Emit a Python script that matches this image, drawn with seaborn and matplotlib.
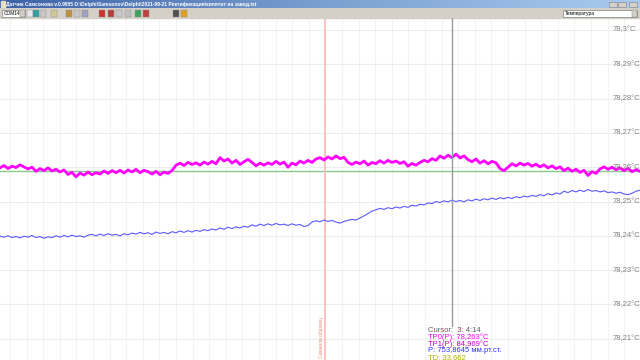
import numpy as np
import pandas as pd
import matplotlib
matplotlib.use("Agg")
import matplotlib.pyplot as plt
from matplotlib.patches import Rectangle
import seaborn as sns

# ---------------- data ----------------
tp0 = [78.2598, 78.2605, 78.2596, 78.2603, 78.2599, 78.2607, 78.2601, 78.2595, 78.2600, 78.2588,
       78.2596, 78.2590, 78.2598, 78.2589, 78.2594, 78.2586, 78.2592, 78.2579, 78.2585, 78.2572,
       78.2583, 78.2577, 78.2586, 78.2578, 78.2584, 78.2580, 78.2589, 78.2582, 78.2590, 78.2584,
       78.2591, 78.2583, 78.2592, 78.2586, 78.2594, 78.2584, 78.2591, 78.2587, 78.2580, 78.2588,
       78.2578, 78.2586, 78.2582, 78.2590, 78.2606, 78.2612, 78.2605, 78.2614, 78.2608, 78.2613,
       78.2606, 78.2615, 78.2609, 78.2617, 78.2610, 78.2628, 78.2618, 78.2624, 78.2612, 78.2620,
       78.2608, 78.2616, 78.2623, 78.2614, 78.2604, 78.2612, 78.2606, 78.2613, 78.2608, 78.2617,
       78.2609, 78.2615, 78.2600, 78.2612, 78.2607, 78.2618, 78.2612, 78.2620, 78.2614, 78.2624,
       78.2628, 78.2621, 78.2630, 78.2624, 78.2633, 78.2625, 78.2629, 78.2614, 78.2608, 78.2615,
       78.2610, 78.2618, 78.2606, 78.2614, 78.2610, 78.2619, 78.2612, 78.2620, 78.2614, 78.2618,
       78.2611, 78.2616, 78.2603, 78.2611, 78.2606, 78.2614, 78.2620, 78.2616, 78.2625, 78.2620,
       78.2633, 78.2626, 78.2635, 78.2628, 78.2638, 78.2627, 78.2633, 78.2622, 78.2616, 78.2624,
       78.2612, 78.2619, 78.2610, 78.2617, 78.2613, 78.2596, 78.2590, 78.2600, 78.2610, 78.2604,
       78.2612, 78.2606, 78.2611, 78.2603, 78.2609, 78.2601, 78.2607, 78.2598, 78.2604, 78.2596,
       78.2601, 78.2590, 78.2597, 78.2588, 78.2594, 78.2585, 78.2591, 78.2576, 78.2587, 78.2582,
       78.2595, 78.2601, 78.2594, 78.2600, 78.2593, 78.2598, 78.2590, 78.2597, 78.2587, 78.2593,
       78.2588]

pres = [78.2399, 78.2396, 78.2400, 78.2395, 78.2398, 78.2394, 78.2399, 78.2396, 78.2401, 78.2395,
        78.2398, 78.2393, 78.2397, 78.2395, 78.2400, 78.2396,
        78.2401, 78.2397, 78.2402, 78.2398, 78.2400, 78.2396, 78.2402,
        78.2404, 78.2400, 78.2405, 78.2401, 78.2406, 78.2402, 78.2404, 78.2400, 78.2406, 78.2403,
        78.2408, 78.2405, 78.2410, 78.2406, 78.2409, 78.2404, 78.2411, 78.2407, 78.2410, 78.2406,
        78.2412, 78.2409, 78.2414, 78.2410, 78.2415, 78.2411, 78.2416, 78.2413,
        78.2418, 78.2415, 78.2420, 78.2417, 78.2423, 78.2419, 78.2425, 78.2421, 78.2426, 78.2423, 78.2428, 78.2425,
        78.2432, 78.2428, 78.2434, 78.2430, 78.2435, 78.2431, 78.2436, 78.2432, 78.2434, 78.2430, 78.2435, 78.2431, 78.2433,
        78.2427, 78.2430,
        78.2440, 78.2444, 78.2441, 78.2446, 78.2442, 78.2445, 78.2440, 78.2437, 78.2442, 78.2445, 78.2448, 78.2446,
        78.2452, 78.2458, 78.2465,
        78.2472, 78.2476, 78.2480, 78.2477, 78.2482, 78.2479, 78.2484, 78.2481,
        78.2486, 78.2483, 78.2489, 78.2487, 78.2492, 78.2490, 78.2496, 78.2494,
        78.2500, 78.2497, 78.2502, 78.2499, 78.2504, 78.2500, 78.2503, 78.2499, 78.2505, 78.2502,
        78.2507, 78.2503, 78.2508, 78.2505, 78.2510, 78.2506, 78.2511, 78.2508, 78.2512, 78.2509, 78.2514, 78.2511,
        78.2516, 78.2513, 78.2518, 78.2515, 78.2520, 78.2517, 78.2523, 78.2519, 78.2525, 78.2522,
        78.2530, 78.2526, 78.2532, 78.2528, 78.2533, 78.2529, 78.2535, 78.2530, 78.2532, 78.2528,
        78.2531, 78.2526, 78.2528, 78.2524, 78.2527, 78.2522, 78.2520,
        78.2524, 78.2530, 78.2533]

ref_level = 78.2588
ytick_vals = [78.30, 78.29, 78.28, 78.27, 78.26, 78.25, 78.24, 78.23, 78.22, 78.21]
ytick_labels = ["78,3°C", "78,29°C", "78,28°C", "78,27°C", "78,26°C",
                "78,25°C", "78,24°C", "78,23°C", "78,22°C", "78,21°C"]
marker_pos = 81.25
cursor_pos = 113.0
marker_label = "Сменили образец"
cursor_lines = ["Cursor:  3: 4:14", "TP0(P): 78,263°C", "TP1(P): 84,969°C",
                "P: 753,8645 мм.рт.ст.", "TD: 33,662"]
cursor_colors = ["#606060", "#ff00ff", "#c000c0", "#3030ff", "#b0b000"]
window_title = "Датчик Самсонова v.0.9955 D:\\Delphi\\Samsonov\\Delphi\\2021-09-21 Ректификация\\кипятит на завод.txt"

df0 = pd.DataFrame({"t": np.arange(len(tp0)), "v": tp0})
df1 = pd.DataFrame({"t": np.arange(len(pres)), "v": pres})

# ---------------- figure ----------------
sns.set_theme(style="white")
plt.rcParams["font.family"] = ["Liberation Sans", "DejaVu Sans"]

W, H = 640, 360
fig = plt.figure(figsize=(6.4, 3.6), dpi=100)
fig.patch.set_facecolor("white")

top_px = 18
ax = fig.add_axes([0, 0, 1, (H - top_px) / H])
ax.set_facecolor("white")
ax.set_xlim(0, 160)
ax.set_ylim(78.2038, 78.3035)
for s in ax.spines.values():
    s.set_visible(False)

# grid
for gx in np.arange(2.5, 160, 4.15):
    ax.axvline(gx, color="#f3f3f3", lw=0.8, zorder=0)
for gy in ytick_vals:
    ax.axhline(gy, color="#ececec", lw=0.8, zorder=0)

ax.axhline(ref_level, color="#8cc88c", lw=1.0, zorder=1)
ax.axvline(marker_pos, color="#ffb8b8", lw=1.2, zorder=1)

sns.lineplot(data=df1, x="t", y="v", color="#5a5aff", lw=0.8, ax=ax, zorder=3)
sns.lineplot(data=df0, x="t", y="v", color="#ff00ff", lw=2.0, ax=ax, zorder=4)

ax.set_xticks([])
ax.set_yticks([])
ax.set_xlabel("")
ax.set_ylabel("")

for v, lab in zip(ytick_vals, ytick_labels):
    ax.text(613 / 640 * 160, v, lab, fontsize=5.5, color="#808080",
            va="center", ha="left", zorder=5)

# overlay in pixel coordinates
ov = fig.add_axes([0, 0, 1, 1], zorder=10)
ov.set_xlim(0, W)
ov.set_ylim(H, 0)
ov.axis("off")
ov.patch.set_visible(False)

# cursor line
ov.plot([452, 452], [top_px, 326], color="#9a9a9a", lw=1.0)
# marker label
ov.text(322, 337, marker_label, rotation=90, fontsize=3.5, color="#ff8080",
        ha="center", va="center")
# cursor readout
for i, (t, c) in enumerate(zip(cursor_lines, cursor_colors)):
    ov.text(428, 331 + i * 6.6, t, fontsize=5.5, color=c, ha="left", va="center")

# title bar gradient
grad = np.linspace(0, 1, 256)[None, :]
tb = fig.add_axes([0, (H - 8) / H, 1, 8 / H], zorder=11)
tb.imshow(grad, aspect="auto", cmap=matplotlib.colors.LinearSegmentedColormap.from_list(
    "tb", ["#3d62a8", "#7a9fd0", "#a9cbf0"]), extent=(0, W, 8, 0))
tb.set_xlim(0, W)
tb.set_ylim(8, 0)
tb.axis("off")
tb.text(6, 4.3, window_title, fontsize=3.6, color="white", va="center", ha="left",
        fontweight="bold")
tb.add_patch(Rectangle((1, 1), 4, 6, color="#e8e0c0"))
for bx in (609, 618, 629):
    tb.add_patch(Rectangle((bx, 1.5), 8, 5.5, facecolor="#d4d0c8", edgecolor="#808080", lw=0.4))

# toolbar
ov.add_patch(Rectangle((0, 8), W, 10, color="#d4d0c8", zorder=1))
ov.add_patch(Rectangle((2, 9.5), 23, 7.5, facecolor="white", edgecolor="#808080", lw=0.5, zorder=2))
ov.text(4, 13.3, "COM14", fontsize=3.5, color="black", va="center", zorder=3)
ov.add_patch(Rectangle((20, 10), 4.5, 6.5, facecolor="#d4d0c8", edgecolor="#808080", lw=0.3, zorder=3))
icons = [(27, "#e8e8e8"), (33, "#30a0a0"), (40, "#c8c8c8"), (51, "#d0c890"),
         (66, "#c09040"), (74, "#c8c8c8"), (82, "#a0a0c0"), (99, "#d03030"),
         (108, "#b04040"), (116, "#c8c8c8"), (125, "#c0c0c0"), (135, "#40a060"),
         (143, "#c04040"), (173, "#505050"), (181, "#e0a020")]
for ix, col in icons:
    ov.add_patch(Rectangle((ix, 10), 5.5, 6.5, facecolor=col, edgecolor="#909090", lw=0.3, zorder=2))
ov.add_patch(Rectangle((563, 9.5), 74, 7.5, facecolor="white", edgecolor="#808080", lw=0.5, zorder=2))
ov.add_patch(Rectangle((632, 10), 4.5, 6.5, facecolor="#d4d0c8", edgecolor="#808080", lw=0.3, zorder=3))
ov.text(565, 13.3, "Температура", fontsize=3.5, color="black", va="center", zorder=3)

fig.savefig("out.png", dpi=100)
